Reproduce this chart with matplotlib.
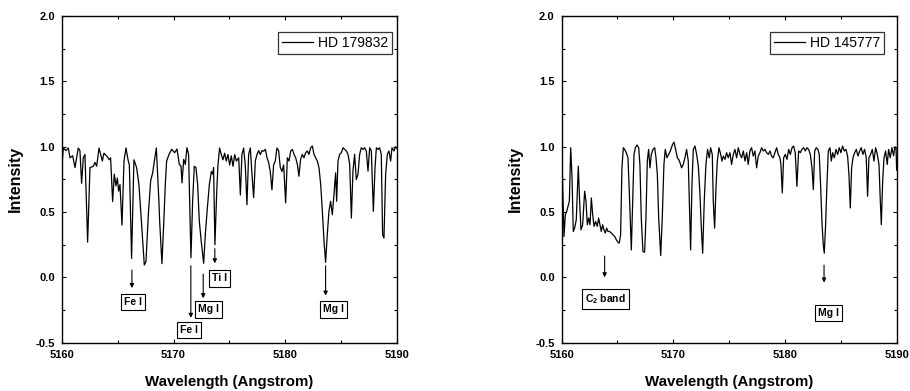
"""
Two stellar spectra around the Mg I b triplet (5160-5190 A)
"""

import matplotlib

matplotlib.use("Agg")
import matplotlib.pyplot as plt
from matplotlib.ticker import MultipleLocator

# HD 179832 (left panel)
left_wave = [
    5160.00, 5160.12, 5160.35, 5160.57, 5160.72, 5160.96, 5161.17, 5161.46, 5161.61, 5161.76,
    5161.91, 5162.06, 5162.30, 5162.51, 5162.81, 5162.96, 5163.11, 5163.32, 5163.47, 5163.62,
    5163.76, 5164.00, 5164.24, 5164.36, 5164.54, 5164.69, 5164.84, 5164.96, 5165.08, 5165.20,
    5165.38, 5165.56, 5165.74, 5165.92, 5166.04, 5166.24, 5166.45, 5166.69, 5166.90, 5167.14,
    5167.38, 5167.53, 5167.74, 5167.95, 5168.13, 5168.28, 5168.46, 5168.60, 5168.69, 5168.75,
    5168.96, 5169.14, 5169.26, 5169.38, 5169.59, 5169.83, 5169.98, 5170.10, 5170.31, 5170.52,
    5170.67, 5170.76, 5170.91, 5171.06, 5171.20, 5171.35, 5171.56, 5171.71, 5171.86, 5172.01,
    5172.16, 5172.31, 5172.49, 5172.70, 5172.85, 5173.03, 5173.21, 5173.39, 5173.51, 5173.59,
    5173.71, 5173.86, 5173.98, 5174.13, 5174.28, 5174.43, 5174.58, 5174.73, 5174.88, 5175.03,
    5175.18, 5175.33, 5175.48, 5175.63, 5175.84, 5175.99, 5176.13, 5176.28, 5176.43, 5176.58,
    5176.73, 5176.88, 5177.03, 5177.18, 5177.33, 5177.48, 5177.63, 5177.78, 5177.93, 5178.08,
    5178.23, 5178.38, 5178.52, 5178.67, 5178.82, 5178.97, 5179.12, 5179.27, 5179.42, 5179.57,
    5179.72, 5179.87, 5180.05, 5180.20, 5180.35, 5180.50, 5180.65, 5180.80, 5180.95, 5181.10,
    5181.24, 5181.39, 5181.54, 5181.69, 5181.84, 5181.99, 5182.14, 5182.29, 5182.44, 5182.59,
    5182.74, 5182.89, 5183.04, 5183.19, 5183.34, 5183.49, 5183.63, 5183.78, 5183.93, 5184.08,
    5184.23, 5184.38, 5184.53, 5184.62, 5184.74, 5184.89, 5185.04, 5185.19, 5185.34, 5185.49,
    5185.64, 5185.79, 5185.94, 5186.08, 5186.23, 5186.38, 5186.53, 5186.68, 5186.83, 5186.98,
    5187.13, 5187.28, 5187.43, 5187.58, 5187.73, 5187.91, 5188.06, 5188.18, 5188.33, 5188.47,
    5188.62, 5188.74, 5188.86, 5189.01, 5189.16, 5189.31, 5189.46, 5189.58, 5189.76, 5189.91,
    5190.00,
]
left_flux = [
    0.85, 0.99, 0.97, 0.99, 0.915, 0.93, 0.84, 0.99, 0.97, 0.72,
    0.915, 0.94, 0.27, 0.84, 0.85, 0.88, 0.85, 0.99, 0.94, 0.89,
    0.95, 0.93, 0.90, 0.915, 0.58, 0.79, 0.70, 0.76, 0.66, 0.71,
    0.40, 0.89, 0.99, 0.90, 0.86, 0.145, 0.90, 0.84, 0.71, 0.40,
    0.095, 0.12, 0.48, 0.74, 0.80, 0.89, 0.99, 0.74, 0.58, 0.44,
    0.105, 0.45, 0.71, 0.89, 0.94, 0.98, 0.965, 0.954, 0.982, 0.864,
    0.851, 0.723, 0.903, 0.864, 0.992, 0.941, 0.15, 0.58, 0.85, 0.84,
    0.71, 0.43, 0.27, 0.108, 0.33, 0.53, 0.71, 0.81, 0.79, 0.84,
    0.25, 0.63, 0.86, 0.99, 0.94, 0.90, 0.95, 0.89, 0.94, 0.86,
    0.93, 0.85, 0.94, 0.89, 0.915, 0.63, 0.94, 0.99, 0.86, 0.556,
    0.94, 0.99, 0.79, 0.61, 0.89, 0.94, 0.97, 0.94, 0.97, 0.965,
    0.98, 0.915, 0.88, 0.81, 0.67, 0.86, 0.89, 0.99, 0.97, 0.84,
    0.81, 0.86, 0.57, 0.915, 0.89, 0.967, 0.979, 0.941, 0.915, 0.864,
    0.774, 0.903, 0.941, 0.915, 0.954, 0.967, 0.941, 0.992, 1.005, 0.941,
    0.915, 0.89, 0.838, 0.71, 0.505, 0.274, 0.115, 0.326, 0.505, 0.582,
    0.479, 0.633, 0.80, 0.582, 0.89, 0.941, 0.954, 0.992, 0.979, 0.967,
    0.941, 0.864, 0.454, 0.813, 0.941, 0.749, 0.787, 0.941, 0.992, 0.979,
    0.992, 0.967, 0.813, 0.992, 0.967, 0.505, 0.838, 0.992, 0.979, 0.992,
    0.941, 0.326, 0.30, 0.787, 0.941, 0.967, 0.89, 0.992, 0.967, 1.0,
    0.99,
]

# HD 145777 (right panel)
right_wave = [
    5160.00, 5160.21, 5160.33, 5160.45, 5160.57, 5160.69, 5160.81, 5160.93, 5161.04, 5161.16,
    5161.31, 5161.49, 5161.61, 5161.73, 5161.88, 5162.06, 5162.18, 5162.30, 5162.42, 5162.54,
    5162.66, 5162.78, 5162.90, 5163.04, 5163.19, 5163.31, 5163.43, 5163.55, 5163.67, 5163.79,
    5163.91, 5164.03, 5164.15, 5164.30, 5164.45, 5164.60, 5164.75, 5164.90, 5165.04, 5165.16,
    5165.28, 5165.40, 5165.52, 5165.64, 5165.79, 5165.94, 5166.09, 5166.24, 5166.36, 5166.48,
    5166.60, 5166.75, 5166.90, 5167.01, 5167.13, 5167.28, 5167.43, 5167.55, 5167.67, 5167.79,
    5167.91, 5168.03, 5168.18, 5168.33, 5168.45, 5168.57, 5168.69, 5168.87, 5169.01, 5169.16,
    5169.28, 5169.43, 5169.58, 5169.73, 5169.94, 5170.06, 5170.21, 5170.36, 5170.48, 5170.60,
    5170.74, 5170.89, 5171.04, 5171.19, 5171.34, 5171.55, 5171.67, 5171.79, 5171.94, 5172.09,
    5172.24, 5172.39, 5172.51, 5172.63, 5172.77, 5172.92, 5173.07, 5173.22, 5173.34, 5173.49,
    5173.58, 5173.70, 5173.82, 5173.94, 5174.09, 5174.24, 5174.36, 5174.48, 5174.63, 5174.77,
    5174.92, 5175.07, 5175.22, 5175.37, 5175.52, 5175.67, 5175.82, 5175.97, 5176.12, 5176.27,
    5176.42, 5176.57, 5176.71, 5176.86, 5177.01, 5177.16, 5177.31, 5177.46, 5177.61, 5177.76,
    5177.91, 5178.06, 5178.21, 5178.36, 5178.51, 5178.66, 5178.80, 5178.95, 5179.10, 5179.25,
    5179.40, 5179.55, 5179.64, 5179.76, 5179.88, 5180.03, 5180.18, 5180.33, 5180.48, 5180.63,
    5180.77, 5180.92, 5181.07, 5181.22, 5181.37, 5181.52, 5181.67, 5181.82, 5181.97, 5182.12,
    5182.27, 5182.42, 5182.54, 5182.66, 5182.80, 5182.95, 5183.07, 5183.19, 5183.31, 5183.43,
    5183.52, 5183.64, 5183.76, 5183.88, 5184.03, 5184.15, 5184.27, 5184.42, 5184.57, 5184.72,
    5184.86, 5185.01, 5185.16, 5185.31, 5185.46, 5185.61, 5185.73, 5185.85, 5185.97, 5186.09,
    5186.24, 5186.39, 5186.54, 5186.69, 5186.83, 5186.98, 5187.13, 5187.28, 5187.40, 5187.52,
    5187.67, 5187.82, 5187.97, 5188.12, 5188.27, 5188.42, 5188.54, 5188.63, 5188.75, 5188.87,
    5189.01, 5189.16, 5189.28, 5189.43, 5189.58, 5189.73, 5189.85, 5189.95, 5190.00,
]
right_flux = [
    1.0, 0.313, 0.479, 0.505, 0.544, 0.582, 0.992, 0.762, 0.351, 0.377,
    0.441, 0.851, 0.582, 0.364, 0.403, 0.659, 0.582, 0.403, 0.454, 0.403,
    0.608, 0.479, 0.39, 0.428, 0.39, 0.454, 0.403, 0.351, 0.403, 0.364,
    0.339, 0.377, 0.351, 0.351, 0.339, 0.326, 0.313, 0.287, 0.269, 0.262,
    0.326, 0.838, 0.992, 0.979, 0.954, 0.915, 0.582, 0.21, 0.582, 0.941,
    0.992, 1.013, 0.992, 0.864, 0.454, 0.197, 0.192, 0.454, 0.89, 0.979,
    0.838, 0.941, 0.979, 0.992, 0.915, 0.787, 0.454, 0.167, 0.454, 0.864,
    0.979, 0.915, 0.941, 0.967, 1.018, 1.035, 0.979, 0.915, 0.903, 0.877,
    0.838, 0.864, 0.915, 0.979, 0.89, 0.21, 0.71, 0.979, 1.005, 0.941,
    0.851, 0.633, 0.377, 0.185, 0.582, 0.864, 0.979, 0.915, 0.992, 0.941,
    0.582, 0.377, 0.685, 0.89, 0.992, 0.941, 0.89, 0.928, 0.903, 0.954,
    0.915, 0.954, 0.864, 0.941, 0.979, 0.915, 0.992, 0.941, 0.915, 0.967,
    0.89, 0.954, 0.864, 0.967, 0.992, 0.928, 0.967, 0.838, 0.928, 0.954,
    0.992, 0.967, 0.979, 0.954, 0.941, 0.967, 0.928, 0.915, 0.954, 0.992,
    0.941, 0.915, 0.864, 0.646, 0.915, 0.941, 0.903, 0.979, 0.941, 0.992,
    1.005, 0.954, 0.697, 0.967, 0.954, 0.979, 0.992, 0.967, 0.992, 0.979,
    0.941, 0.838, 0.672, 0.967, 0.992, 0.979, 0.941, 0.71, 0.428, 0.249,
    0.185, 0.403, 0.71, 0.967, 0.992, 0.89, 0.954, 0.915, 0.979, 0.941,
    0.992, 0.954, 1.005, 0.967, 0.979, 0.928, 0.787, 0.531, 0.838, 0.915,
    0.954, 0.979, 0.928, 0.967, 0.992, 0.941, 0.979, 0.915, 0.621, 0.915,
    0.941, 0.979, 0.89, 0.992, 0.941, 0.864, 0.582, 0.403, 0.736, 0.915,
    0.967, 0.864, 0.979, 0.915, 0.992, 0.93, 1.0, 0.99, 0.82,
]

FONT = ["Liberation Sans", "DejaVu Sans"]
plt.rcParams["font.family"] = FONT
plt.rcParams["mathtext.fontset"] = "custom"
plt.rcParams["mathtext.bf"] = "Liberation Sans:bold"


def mark_line(ax, x, y_from, y_to, label, lx, ly):
    """Стрелка к линии поглощения и подпись в рамке"""
    ax.annotate(
        "",
        xy=(x, y_to),
        xytext=(x, y_from),
        arrowprops=dict(arrowstyle="-|>", color="black", lw=0.8, mutation_scale=6,
                        shrinkA=0, shrinkB=0),
    )
    ax.text(
        lx, ly, label, ha="center", va="center", fontsize=7.5, fontweight="bold",
        bbox=dict(boxstyle="square,pad=0.3", fc="white", ec="black", lw=0.8),
    )


def draw_panel(ax, wave, flux, star, leg_x):
    ax.plot(wave, flux, color="black", lw=0.9, label=star)
    ax.set_xlim(5160, 5190)
    ax.set_ylim(-0.5, 2.0)
    ax.xaxis.set_major_locator(MultipleLocator(10))
    ax.xaxis.set_minor_locator(MultipleLocator(5))
    ax.yaxis.set_major_locator(MultipleLocator(0.5))
    ax.yaxis.set_minor_locator(MultipleLocator(0.25))
    ax.yaxis.set_major_formatter(plt.FuncFormatter(lambda v, p: f"{v:.1f}"))
    ax.tick_params(which="both", direction="in", top=True, right=True, width=0.8,
                   labelsize=8)
    ax.tick_params(which="major", length=3, pad=5)
    ax.tick_params(which="minor", length=2)
    for lab in ax.get_xticklabels() + ax.get_yticklabels():
        lab.set_fontweight("bold")
    for sp in ax.spines.values():
        sp.set_linewidth(1.0)
    ax.set_xlabel("Wavelength (Angstrom)", fontsize=10.8, fontweight="bold", labelpad=11)
    ax.set_ylabel("Intensity", fontsize=11.5, fontweight="bold", labelpad=9)
    leg = ax.legend(loc="upper right", bbox_to_anchor=(leg_x, 0.952), borderaxespad=0,
                    fancybox=False, edgecolor="black", handlelength=2.2,
                    handletextpad=0.35, borderpad=0.3, fontsize=10)
    leg.get_frame().set_linewidth(0.9)


fig = plt.figure(figsize=(9.1, 3.91), dpi=100)
ax1 = fig.add_axes([0.0681, 0.1235, 0.3678, 0.8356])
ax2 = fig.add_axes([0.6172, 0.1235, 0.3681, 0.8356])

draw_panel(ax1, left_wave, left_flux, "HD 179832", 0.986)
mark_line(ax1, 5166.27, 0.056, -0.082, "Fe I", 5166.39, -0.19)
mark_line(ax1, 5171.55, 0.089, -0.31, "Fe I", 5171.4, -0.40)
mark_line(ax1, 5172.66, 0.025, -0.16, "Mg I", 5173.1, -0.245)
mark_line(ax1, 5173.70, 0.22, 0.107, "Ti I", 5174.1, -0.008)
mark_line(ax1, 5183.63, 0.089, -0.14, "Mg I", 5184.3, -0.245)

draw_panel(ax2, right_wave, right_flux, "HD 145777", 0.963)
mark_line(ax2, 5163.85, 0.163, 0.0, "C$_\\mathbf{2}$ band", 5163.9, -0.166)
mark_line(ax2, 5183.5, 0.094, -0.04, "Mg I", 5183.87, -0.275)

fig.savefig("out.png", dpi=100)
